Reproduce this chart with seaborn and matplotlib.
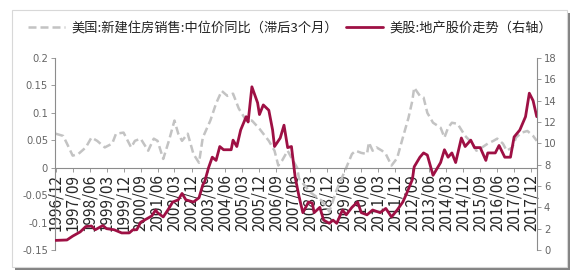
import matplotlib
matplotlib.use("Agg")
import matplotlib.pyplot as plt
import matplotlib.dates as mdates
from matplotlib.patches import Rectangle
from matplotlib.lines import Line2D
import pandas as pd
import seaborn as sns

sns.set_theme(style="white")
plt.rcParams['font.family'] = ['Noto Sans CJK SC', 'DejaVu Sans']
plt.rcParams['axes.unicode_minus'] = False

# ---- data -------------------------------------------------------------
price_dates = ["1996-12", "1997-04", "1997-06", "1997-09", "1997-12", "1998-04", "1998-07",
               "1998-10", "1999-02", "1999-06", "1999-08", "1999-12", "2000-04", "2000-06",
               "2000-09", "2001-01", "2001-04", "2001-06", "2001-09", "2001-12", "2002-03",
               "2002-05", "2002-07", "2002-10", "2003-01", "2003-04", "2003-06", "2003-10",
               "2004-01", "2004-04", "2004-07", "2004-10", "2005-01", "2005-05", "2005-08",
               "2005-12", "2006-02", "2006-05", "2006-08", "2006-10", "2006-12", "2007-03",
               "2007-05", "2007-08", "2007-09", "2008-03", "2008-09", "2009-01", "2009-05",
               "2009-10", "2010-01", "2010-03", "2010-06", "2010-09", "2010-10", "2010-12",
               "2011-02", "2011-05", "2011-07", "2011-10", "2011-12", "2012-01", "2012-04",
               "2012-07", "2012-09", "2012-10", "2013-01", "2013-03", "2013-05", "2013-08",
               "2013-12", "2014-02", "2014-04", "2014-06", "2014-09", "2015-01", "2015-05",
               "2015-07", "2015-10", "2016-01", "2016-04", "2016-06", "2016-09", "2016-11",
               "2017-02", "2017-04", "2017-07", "2017-10", "2018-01", "2018-03"]
price_yoy = [0.062, 0.058, 0.044, 0.022, 0.025, 0.037, 0.055,
             0.049, 0.037, 0.044, 0.062, 0.064, 0.037, 0.049,
             0.053, 0.031, 0.053, 0.049, 0.016, 0.049, 0.086,
             0.062, 0.049, 0.062, 0.025, 0.009, 0.055, 0.086,
             0.117, 0.140, 0.131, 0.135, 0.108, 0.086, 0.086,
             0.071, 0.062, 0.049, 0.031, 0.004, 0.013, 0.031,
             0.018, 0.000, -0.020, -0.045, -0.060, -0.080, -0.040,
             0.000, 0.025, 0.031, 0.027, 0.025, 0.046, 0.031,
             0.037, 0.031, 0.025, 0.004, 0.013, 0.018, 0.055,
             0.091, 0.122, 0.146, 0.131, 0.128, 0.100, 0.082,
             0.073, 0.055, 0.073, 0.082, 0.080, 0.058, 0.044,
             0.031, 0.037, 0.044, 0.049, 0.053, 0.044, 0.031,
             0.037, 0.055, 0.064, 0.067, 0.058, 0.049]

stock_dates = ["1996-12", "1997-06", "1997-09", "1998-01", "1998-04", "1998-07", "1998-09",
               "1999-01", "1999-03", "1999-07", "1999-11", "2000-03", "2000-05", "2000-07",
               "2000-09", "2001-01", "2001-03", "2001-05", "2001-06", "2001-09", "2001-12",
               "2002-02", "2002-05", "2002-07", "2002-09", "2003-01", "2003-04", "2003-06",
               "2003-07", "2003-09", "2003-11", "2004-01", "2004-03", "2004-05", "2004-09",
               "2004-10", "2004-12", "2005-02", "2005-05", "2005-06", "2005-08", "2005-11",
               "2005-12", "2006-02", "2006-05", "2006-07", "2006-08", "2006-11", "2007-01",
               "2007-03", "2007-05", "2007-07", "2007-09", "2007-11", "2008-02", "2008-04",
               "2008-05", "2008-08", "2008-10", "2009-01", "2009-03", "2009-05", "2009-08",
               "2009-10", "2010-01", "2010-04", "2010-06", "2010-09", "2010-12", "2011-04",
               "2011-07", "2011-10", "2012-01", "2012-04", "2012-06", "2012-09", "2012-10",
               "2013-01", "2013-03", "2013-05", "2013-08", "2013-12", "2014-02", "2014-04",
               "2014-06", "2014-08", "2014-11", "2015-01", "2015-04", "2015-06", "2015-09",
               "2015-12", "2016-01", "2016-05", "2016-07", "2016-10", "2017-01", "2017-03",
               "2017-06", "2017-09", "2017-11", "2018-01", "2018-03"]
stock_index = [0.9, 0.94, 1.3, 1.7, 2.2, 2.25, 1.9,
               2.3, 2.0, 1.9, 1.6, 1.6, 1.9, 1.9,
               2.6, 3.0, 3.2, 3.75, 3.5, 3.1, 3.9,
               4.5, 4.7, 5.3, 4.7, 4.5, 4.9, 6.1,
               6.4, 7.7, 8.7, 8.4, 9.7, 9.4, 9.4,
               10.3, 9.7, 11.25, 12.5, 12.0, 15.3, 13.8,
               12.7, 13.6, 13.1, 11.25, 9.7, 10.5, 11.7,
               9.6, 9.7, 6.8, 5.0, 3.5, 4.5, 4.4,
               3.5, 4.0, 2.8, 2.5, 2.8, 2.5, 3.75,
               3.3, 4.0, 4.5, 3.5, 3.3, 3.75, 3.5,
               3.9, 3.1, 3.75, 4.5, 5.3, 6.6, 7.8,
               8.7, 9.1, 8.9, 7.0, 8.2, 9.4, 8.7,
               9.1, 8.2, 10.5, 9.7, 10.3, 9.6, 9.6,
               8.4, 9.1, 9.1, 9.8, 8.7, 8.7, 10.6,
               11.25, 12.5, 14.7, 14.0, 12.5]

tick_labels = ["1996/12", "1997/09", "1998/06", "1999/03", "1999/12", "2000/09", "2001/06",
               "2002/03", "2002/12", "2003/09", "2004/06", "2005/03", "2005/12", "2006/09",
               "2007/06", "2008/03", "2008/12", "2009/09", "2010/06", "2011/03", "2011/12",
               "2012/09", "2013/06", "2014/03", "2014/12", "2015/09", "2016/06", "2017/03",
               "2017/12"]
left_ticks = [-0.15, -0.1, -0.05, 0, 0.05, 0.1, 0.15, 0.2]
left_tick_labels = ["-0.15", "-0.1", "-0.05", "0", "0.05", "0.1", "0.15", "0.2"]
right_ticks = [0, 2, 4, 6, 8, 10, 12, 14, 16, 18]

label_gray = "美国:新建住房销售:中位价同比（滞后3个月）"
label_red = "美股:地产股价走势（右轴）"

df_price = pd.DataFrame({"date": pd.to_datetime(price_dates, format="%Y-%m"), "v": price_yoy})
df_stock = pd.DataFrame({"date": pd.to_datetime(stock_dates, format="%Y-%m"), "v": stock_index})

# ---- figure -----------------------------------------------------------
W, H = 581, 280
fig = plt.figure(figsize=(W / 100, H / 100), dpi=100)
fig.patch.set_facecolor("white")

# frame with shadow
fig.patches.append(Rectangle((15 / W, 1 - 270 / H), 555 / W, 257 / H, transform=fig.transFigure,
                             facecolor="#6d6d6d", edgecolor="none", zorder=-3, alpha=0.85))
fig.patches.append(Rectangle((12 / W, 1 - 267 / H), 555 / W, 257 / H, transform=fig.transFigure,
                             facecolor="white", edgecolor="#d8d8d8", linewidth=0.8, zorder=-2))

ax = fig.add_axes([55 / W, 1 - 250 / H, (537 - 55) / W, (250 - 58) / H])
ax.set_facecolor("none")
ax2 = ax.twinx()

gray = "#c3c3c3"
red = "#9e1044"
dash = (0, (3.2, 1.6))
sns.lineplot(data=df_price, x="date", y="v", ax=ax, color=gray, linewidth=1.8,
             linestyle=dash, legend=False)
sns.lineplot(data=df_stock, x="date", y="v", ax=ax2, color=red, linewidth=2.0, legend=False)

ax.set_ylim(-0.15, 0.2)
ax2.set_ylim(0, 18)
ax.set_xlim(pd.Timestamp("1996-11-20"), pd.Timestamp("2018-03-05"))

tick_dates = pd.to_datetime(tick_labels, format="%Y/%m")
ax.set_xticks(mdates.date2num(tick_dates))
ax.set_xticklabels(tick_labels, fontsize=6.4, color="#6e6e6e", family=["DejaVu Sans"])
ax.tick_params(axis="x", labelrotation=90)
for lab in ax.get_xticklabels():
    lab.set_rotation(90)
    lab.set_verticalalignment("top")
    lab.set_horizontalalignment("center")
ax.set_yticks(left_ticks)
ax.set_yticklabels(left_tick_labels, fontsize=7.2, color="#666666", family=["DejaVu Sans"])
ax2.set_yticks(right_ticks)
ax2.set_yticklabels([str(t) for t in right_ticks], fontsize=7.2, color="#666666",
                    family=["DejaVu Sans"])

for a in (ax, ax2):
    a.set_xlabel("")
    a.set_ylabel("")
    a.grid(False)
    for s in a.spines.values():
        s.set_visible(False)
ax2.xaxis.set_visible(False)

ax.spines["left"].set_visible(True)
ax.spines["left"].set_color("#8c8c8c")
ax.spines["left"].set_linewidth(0.8)
ax.spines["bottom"].set_visible(True)
ax.spines["bottom"].set_position(("data", 0))
ax.spines["bottom"].set_color("#8c8c8c")
ax.spines["bottom"].set_linewidth(0.8)
ax2.spines["right"].set_visible(True)
ax2.spines["right"].set_color("#8c8c8c")
ax2.spines["right"].set_linewidth(0.8)

ax.tick_params(axis="x", direction="out", length=3, width=0.6, color="#8c8c8c", pad=1.5,
               bottom=True)
ax.tick_params(axis="y", direction="out", length=3, width=0.6, color="#8c8c8c", pad=2,
               left=True)
ax2.tick_params(axis="y", direction="out", length=3, width=0.6, color="#8c8c8c", pad=2,
                right=True)

# legend
handles = [Line2D([], [], color=gray, linewidth=1.8, linestyle=dash),
           Line2D([], [], color=red, linewidth=2.0)]
fig.legend(handles, [label_gray, label_red], loc="center", bbox_to_anchor=(290 / W, 1 - 28 / H),
           ncol=2, frameon=False, fontsize=9.5, handlelength=2.8, columnspacing=0.6,
           handletextpad=0.5, labelcolor="#222222")

fig.savefig("out.png", dpi=100, facecolor="white")
